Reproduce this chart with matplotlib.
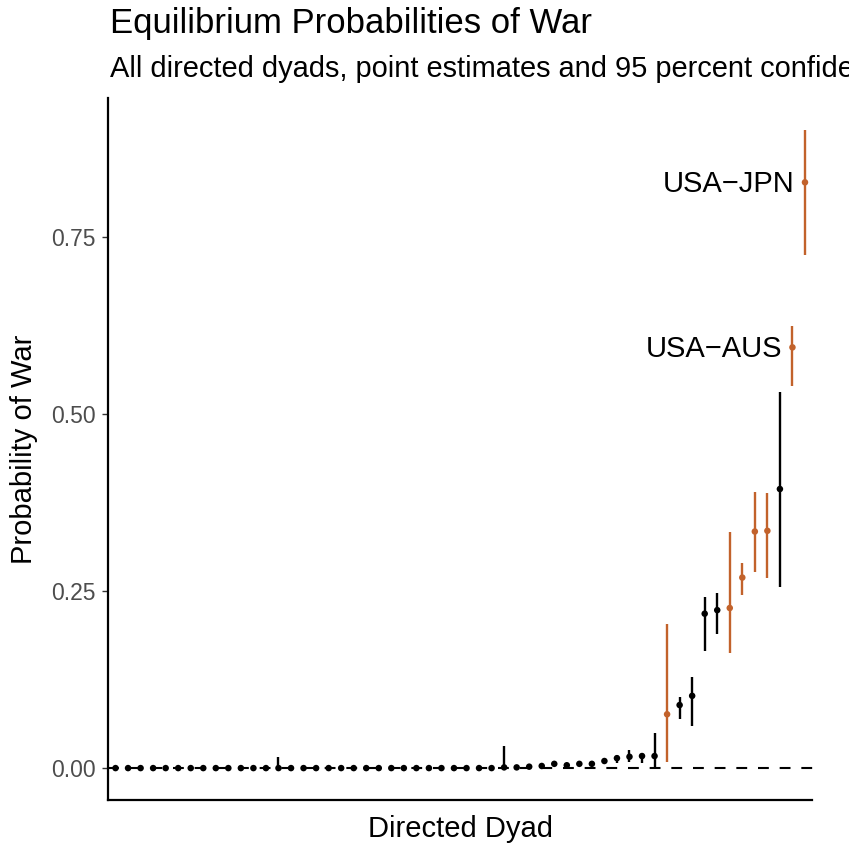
import numpy as np
import matplotlib
matplotlib.use("Agg")
import matplotlib.pyplot as plt

plt.rcParams["font.family"] = ["Liberation Sans", "DejaVu Sans"]

# point estimates and 95% intervals, sorted by estimate (56 directed dyads)
est = [0.0] * 31 + [0.001, 0.001, 0.002, 0.003, 0.006, 0.004, 0.006, 0.006, 0.010,
       0.014, 0.016, 0.017, 0.017, 0.076, 0.089, 0.102, 0.218, 0.223, 0.226,
       0.269, 0.334, 0.335, 0.394, 0.594, 0.827]
lo = [0.0] * 31 + [0.0, 0.0, 0.001, 0.002, 0.004, 0.003, 0.004, 0.004, 0.008,
      0.007, 0.009, 0.007, 0.002, 0.008, 0.070, 0.060, 0.165, 0.190, 0.162,
      0.244, 0.277, 0.269, 0.255, 0.539, 0.724]
hi = [0.0] * 31 + [0.031, 0.002, 0.003, 0.004, 0.009, 0.006, 0.008, 0.009, 0.012,
      0.019, 0.026, 0.022, 0.049, 0.203, 0.101, 0.129, 0.241, 0.247, 0.334,
      0.290, 0.390, 0.389, 0.531, 0.624, 0.901]
hi[13] = 0.016
highlight = [False] * 44 + [True, False, False, False, False, True,
             True, True, True, False, True, True]
labels = {55: "USA\u2212JPN", 54: "USA\u2212AUS"}

BLACK = "#000000"
ORANGE = "#C2622B"

est = np.array(est)
lo = np.array(lo)
hi = np.array(hi)
x = np.arange(len(est))
cols = [ORANGE if h else BLACK for h in highlight]

fig = plt.figure(figsize=(8.49, 8.46), dpi=100)
ax = fig.add_axes([108 / 849, 46 / 846, 704.5 / 849, 702 / 846])

ax.axhline(0, color="black", lw=1.5, dashes=(5.2, 5.2), zorder=1)
ax.vlines(x, lo, hi, colors=cols, lw=1.7, zorder=2)
ax.scatter(x, est, c=cols, s=22, zorder=3, linewidths=0)

for i, txt in labels.items():
    ax.annotate(txt, (x[i], est[i]), xytext=(-10, -2), textcoords="offset pixels",
                ha="right", va="center", fontsize=21, color="black")

ax.set_xlim(-0.6, len(est) - 0.4)
rng = hi.max() - 0.0
ax.set_ylim(-0.05 * rng, hi.max() + 0.05 * rng)
ax.set_xticks([])
ax.set_yticks([0, 0.25, 0.5, 0.75])
ax.set_yticklabels(["0.00", "0.25", "0.50", "0.75"])
ax.tick_params(axis="y", labelsize=16.5, labelcolor="#4D4D4D", color="#333333",
               length=4, width=1, pad=5)
for s in ["top", "right"]:
    ax.spines[s].set_visible(False)
for s in ["left", "bottom"]:
    ax.spines[s].set_linewidth(1.6)

ax.set_xlabel("Directed Dyad", fontsize=21, labelpad=11)
ax.set_ylabel("Probability of War", fontsize=21, labelpad=9)

fig.text(110 / 849, 1 - 24 / 846, "Equilibrium Probabilities of War",
         fontsize=25, ha="left", va="center")
fig.text(110 / 849, 1 - 69 / 846,
         "All directed dyads, point estimates and 95 percent confidence intervals",
         fontsize=20.9, ha="left", va="center")

fig.savefig("out.png", dpi=100)
